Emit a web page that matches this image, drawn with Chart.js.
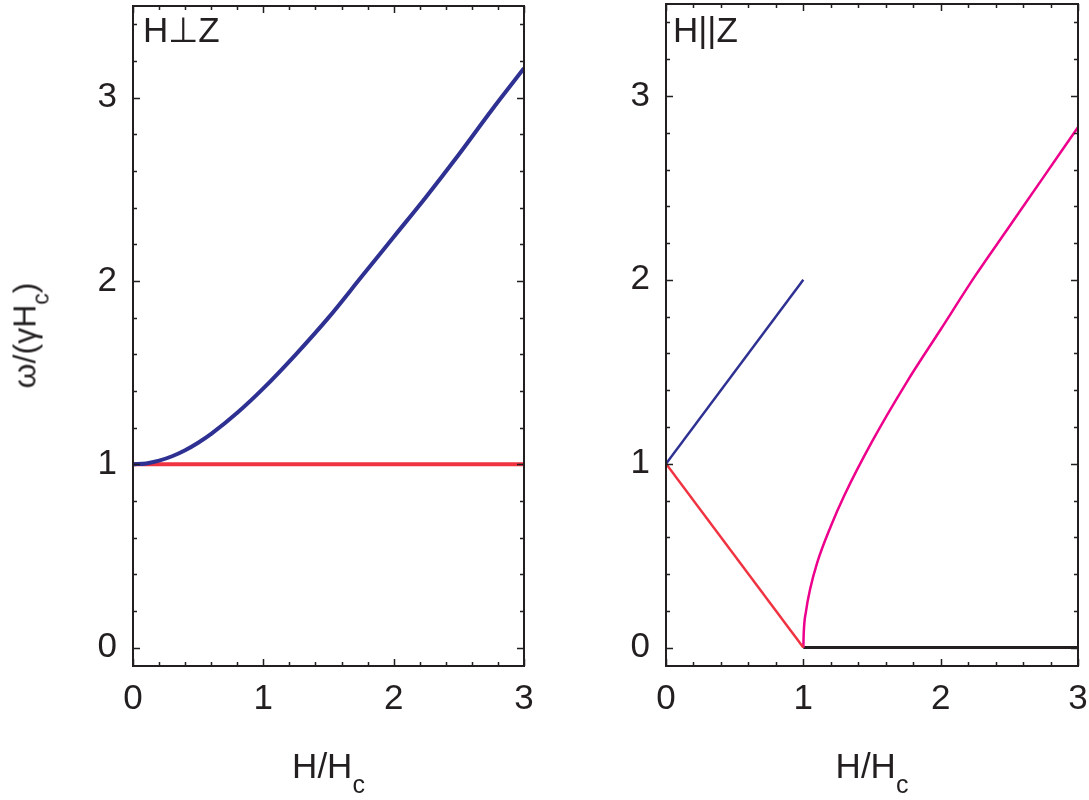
<!DOCTYPE html>
<html>
<head>
<meta charset="utf-8">
<script src="https://cdn.jsdelivr.net/npm/chart.js@4"></script>
<style>
    body {
        margin: 0;
        width: 1089px;
        height: 800px;
        position: relative;
        background: #ffffff;
        overflow: hidden;
        font-family: "Liberation Sans", Arial, sans-serif;
        color: #231f20;
    }

    canvas {
        position: absolute;
        top: 0;
    }

    .label {
        position: absolute;
        font-size: 35px;
        line-height: 35px;
        white-space: nowrap;
    }

    .label .sub {
        font-size: 25px;
        line-height: 0;
        vertical-align: -15px;
    }

    .ytitle {
        font-size: 32px;
        line-height: 35px;
    }

    .ytitle .sub {
        font-size: 23px;
        vertical-align: -13px;
    }
</style>
</head>
<body>
<canvas id="perpChart" width="560" height="800" style="left:0"></canvas>
<canvas id="paraChart" width="529" height="800" style="left:560px"></canvas>

<div class="label" style="left:143px; top:12px;">H⊥Z</div>
<div class="label" style="left:673px; top:12px;">H||Z</div>

<div class="label" style="left:133px; top:748px; width:391px; text-align:center;">H/H<span class="sub">c</span></div>
<div class="label" style="left:666px; top:748px; width:412px; text-align:center;">H/H<span class="sub">c</span></div>

<div class="label ytitle" style="left:-305px; top:318px; width:660px; text-align:center; transform:rotate(-90deg);">ω/(γH<span class="sub">c</span>)</div>

<script>
// H perpendicular to Z
const perpField = [0, 0.1, 0.2, 0.3, 0.4, 0.5, 0.6, 0.8, 1, 1.25, 1.5, 1.75, 2, 2.25, 2.5, 2.75, 3];
const perpUpper = [1.0, 1.005, 1.02, 1.044, 1.077, 1.118, 1.166, 1.281, 1.414, 1.6, 1.8, 2.02, 2.24, 2.46, 2.69, 2.93, 3.16];
const perpLowerField = [0, 3];
const perpLower = [1, 1];

// H parallel to Z
const paraBlueField = [0, 1];
const paraBlue = [1, 2];
const paraRedField = [0, 1];
const paraRed = [1, 0];
const paraPinkField = [1, 1.003, 1.02, 1.05, 1.1, 1.2, 1.3, 1.5, 1.75, 2, 2.25, 2.5, 2.75, 3];
const paraPink = [0, 0.08, 0.2, 0.32, 0.46, 0.66, 0.83, 1.12, 1.44, 1.73, 2.02, 2.29, 2.56, 2.83];
const paraBlackField = [1, 3];
const paraBlack = [0, 0];

const xTickLabels = [0, 1, 2, 3];
const yTickLabels = [0, 1, 2, 3];

const inkColor = '#231f20';
const fontFamily = '"Liberation Sans", Arial, sans-serif';

const toPoints = (xs, ys) => xs.map((x, i) => ({ x, y: ys[i] }));

// frame with inward ticks on all four sides
const frameTicks = {
    id: 'frameTicks',
    afterDatasetsDraw(chart) {
        const { ctx, chartArea } = chart;
        const { left, right, top, bottom } = chartArea;
        const xScale = chart.scales.x;
        const yScale = chart.scales.y;

        ctx.save();
        ctx.strokeStyle = inkColor;
        ctx.lineWidth = 1.5;
        ctx.beginPath();

        for (let i = 0; i <= 15; i++) {
            const px = Math.round(xScale.getPixelForValue(i * 0.2)) + 0.5;
            const len = i % 5 === 0 ? 7 : 4;
            ctx.moveTo(px, bottom);
            ctx.lineTo(px, bottom - len);
            ctx.moveTo(px, top);
            ctx.lineTo(px, top + len);
        }

        for (let i = 0; i <= 17; i++) {
            const py = Math.round(yScale.getPixelForValue(i * 0.2)) + 0.5;
            const len = i % 5 === 0 ? 7 : 4;
            ctx.moveTo(left, py);
            ctx.lineTo(left + len, py);
            ctx.moveTo(right, py);
            ctx.lineTo(right - len, py);
        }

        ctx.stroke();

        ctx.lineWidth = 2;
        ctx.strokeRect(left, top, right - left, bottom - top);
        ctx.restore();
    },
};

const makeOptions = (yWidth, padding) => ({
    responsive: false,
    animation: false,
    layout: { padding },
    plugins: {
        legend: { display: false },
        tooltip: { enabled: false },
    },
    elements: {
        point: { radius: 0 },
    },
    scales: {
        x: {
            type: 'linear',
            min: 0,
            max: 3,
            grid: { display: false, drawTicks: false },
            border: { display: false },
            ticks: {
                color: inkColor,
                font: { family: fontFamily, size: 35 },
                padding: 12,
            },
            afterBuildTicks(scale) {
                scale.ticks = xTickLabels.map((value) => ({ value }));
            },
            afterFit(scale) {
                scale.height = 60;
                scale.paddingLeft = 0;
                scale.paddingRight = 0;
            },
        },
        y: {
            type: 'linear',
            min: -0.1,
            max: 3.5,
            grid: { display: false, drawTicks: false },
            border: { display: false },
            ticks: {
                color: inkColor,
                font: { family: fontFamily, size: 35 },
                padding: 16,
            },
            afterBuildTicks(scale) {
                scale.ticks = yTickLabels.map((value) => ({ value }));
            },
            afterFit(scale) {
                scale.width = yWidth;
                scale.paddingTop = 0;
                scale.paddingBottom = 0;
            },
        },
    },
});

document.addEventListener('DOMContentLoaded', () => {
    new Chart(document.getElementById('perpChart'), {
        type: 'line',
        data: {
            datasets: [
                {
                    data: toPoints(perpField, perpUpper),
                    borderColor: '#2e3192',
                    borderWidth: 4,
                    cubicInterpolationMode: 'monotone',
                },
                {
                    data: toPoints(perpLowerField, perpLower),
                    borderColor: '#ef3340',
                    borderWidth: 4,
                },
            ],
        },
        options: makeOptions(133, { left: 0, right: 36, top: 6, bottom: 74 }),
        plugins: [frameTicks],
    });

    new Chart(document.getElementById('paraChart'), {
        type: 'line',
        data: {
            datasets: [
                {
                    data: toPoints(paraBlueField, paraBlue),
                    borderColor: '#2e3192',
                    borderWidth: 2.5,
                },
                {
                    data: toPoints(paraRedField, paraRed),
                    borderColor: '#ef3340',
                    borderWidth: 2.5,
                },
                {
                    data: toPoints(paraPinkField, paraPink),
                    borderColor: '#ec008c',
                    borderWidth: 2.5,
                    cubicInterpolationMode: 'monotone',
                },
                {
                    data: toPoints(paraBlackField, paraBlack),
                    borderColor: inkColor,
                    borderWidth: 3,
                },
            ],
        },
        options: makeOptions(106, { left: 0, right: 11, top: 4, bottom: 74 }),
        plugins: [frameTicks],
    });
});
</script>
</body>
</html>
